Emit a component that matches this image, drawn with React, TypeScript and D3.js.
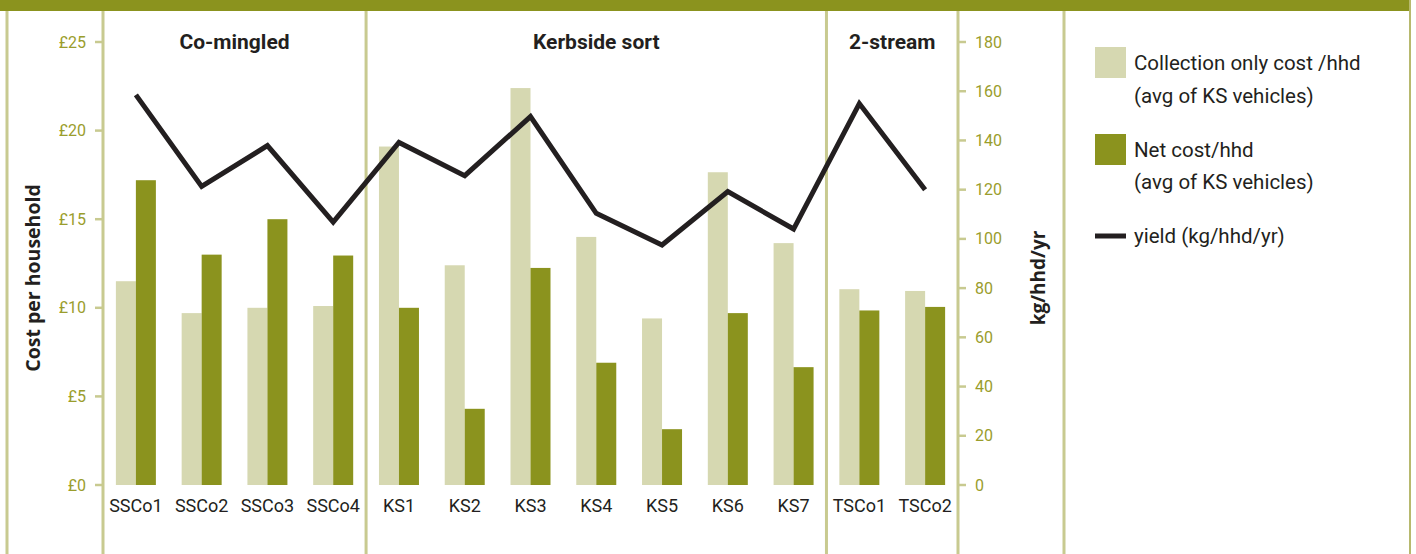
import React from "react";
import * as d3 from "d3";

const categories = ["SSCo1", "SSCo2", "SSCo3", "SSCo4", "KS1", "KS2", "KS3", "KS4", "KS5", "KS6", "KS7", "TSCo1", "TSCo2"];
const collectionCost = [11.5, 9.7, 10.0, 10.1, 19.1, 12.4, 22.4, 14.0, 9.4, 17.65, 13.65, 11.05, 10.95];
const netCost = [17.2, 13.0, 15.0, 12.95, 10.0, 4.3, 12.25, 6.9, 3.15, 9.7, 6.65, 9.85, 10.05];
const yieldKg = [158.5, 121.3, 137.9, 106.8, 139.2, 125.7, 149.7, 110.4, 97.5, 119.2, 104, 155, 120];
const groupNames = ["Co-mingled", "Kerbside sort", "2-stream"];
const groupStarts = [0, 4, 11];
const costTicks = [0, 5, 10, 15, 20, 25];
const yieldTicks = [0, 20, 40, 60, 80, 100, 120, 140, 160, 180];
const legendItems = ["Collection only cost /hhd", "(avg of KS vehicles)", "Net cost/hhd", "(avg of KS vehicles)", "yield (kg/hhd/yr)"];

const W = 1416;
const H = 554;
const OLIVE = "#8b931e";
const LIGHT = "#d6d8b1";
const RULE = "#c8ca90";
const TICKTXT = "#9a9d2c";
const INK = "#231f20";
const FONT = "Roboto, 'DejaVu Sans', sans-serif";
const TITLE_FONT = "'Open Sans', Roboto, sans-serif";

export default function App() {
  const x = d3.scaleBand<string>().domain(categories).range([103, 958]).padding(0);
  const bw = x.bandwidth();
  const x1 = d3.scaleBand<string>().domain(["collection", "net"]).range([bw / 2 - 20, bw / 2 + 20]);
  const yCost = d3.scaleLinear().domain([0, 25]).range([485, 42]);
  const yYield = d3.scaleLinear().domain([0, 180]).range([485, 42]);

  const line = d3
    .line<number>()
    .x((d, i) => (x(categories[i]) ?? 0) + bw / 2)
    .y((d) => yYield(d));

  const groupEdges = groupStarts.map((s) => x(categories[s]) ?? 0).concat([958]);

  return (
    <svg width={W} height={H} style={{ position: "fixed", left: 0, top: 0, background: "#fff" }} fontFamily={FONT}>
      <rect x={0} y={0} width={1411} height={11} fill={OLIVE} />
      {/* frame and separators */}
      <line x1={7} x2={7} y1={11} y2={H} stroke={RULE} strokeWidth={3} />
      <line x1={1410} x2={1410} y1={0} y2={H} stroke="#b7b96e" strokeWidth={2} />
      <line x1={103} x2={103} y1={11} y2={H} stroke={RULE} strokeWidth={3} />
      {groupEdges.slice(1, 3).map((gx, i) => (
        <line key={i} x1={gx} x2={gx} y1={11} y2={H} stroke={RULE} strokeWidth={3} />
      ))}
      <line x1={958} x2={958} y1={11} y2={H} stroke={RULE} strokeWidth={3} />
      <line x1={1064} x2={1064} y1={11} y2={H} stroke={RULE} strokeWidth={3} />

      {/* left axis */}
      {costTicks.map((t) => (
        <g key={t}>
          <line x1={95} x2={103} y1={yCost(t)} y2={yCost(t)} stroke={RULE} strokeWidth={2.5} />
          <text x={86} y={yCost(t)} dy="0.35em" textAnchor="end" fontSize={16} fill={TICKTXT}>
            £{t}
          </text>
        </g>
      ))}
      <text
        transform={`translate(40,278) rotate(-90)`}
        textAnchor="middle"
        fontSize={19.5}
        fontWeight="bold"
        fontFamily={TITLE_FONT}
        fill={INK}
      >
        Cost per household
      </text>

      {/* right axis */}
      {yieldTicks.map((t) => (
        <g key={t}>
          <line x1={958} x2={966} y1={yYield(t)} y2={yYield(t)} stroke={RULE} strokeWidth={2.5} />
          <text x={975} y={yYield(t)} dy="0.35em" textAnchor="start" fontSize={16} fill={TICKTXT}>
            {t}
          </text>
        </g>
      ))}
      <text
        transform={`translate(1045,278) rotate(-90)`}
        textAnchor="middle"
        fontSize={19}
        fontWeight="bold"
        fontFamily={TITLE_FONT}
        fill={INK}
      >
        kg/hhd/yr
      </text>

      {/* group titles */}
      {groupNames.map((g, i) => (
        <text
          key={g}
          x={(groupEdges[i] + groupEdges[i + 1]) / 2}
          y={42}
          dy="0.35em"
          textAnchor="middle"
          fontSize={21}
          fontWeight="bold"
          fill={INK}
        >
          {g}
        </text>
      ))}

      {/* bars */}
      {categories.map((c, i) => (
        <g key={c} transform={`translate(${x(c)},0)`}>
          <rect
            x={x1("collection")}
            y={yCost(collectionCost[i])}
            width={x1.bandwidth()}
            height={yCost(0) - yCost(collectionCost[i])}
            fill={LIGHT}
          />
          <rect
            x={x1("net")}
            y={yCost(netCost[i])}
            width={x1.bandwidth()}
            height={yCost(0) - yCost(netCost[i])}
            fill={OLIVE}
          />
          <text x={bw / 2} y={506} dy="0.35em" textAnchor="middle" fontSize={18} fill={INK}>
            {c}
          </text>
        </g>
      ))}

      {/* yield line */}
      <path d={line(yieldKg) ?? ""} fill="none" stroke={INK} strokeWidth={5} strokeLinejoin="miter" />

      {/* legend */}
      <rect x={1095} y={47} width={31} height={31} fill={LIGHT} />
      <rect x={1095} y={134} width={31} height={31} fill={OLIVE} />
      <line x1={1095} x2={1126} y1={236} y2={236} stroke={INK} strokeWidth={5} />
      {legendItems.map((t, i) => (
        <text
          key={i}
          x={1134}
          y={[63, 96, 150, 182, 236][i]}
          dy="0.35em"
          fontSize={20.5}
          fill={INK}
        >
          {t}
        </text>
      ))}
    </svg>
  );
}
